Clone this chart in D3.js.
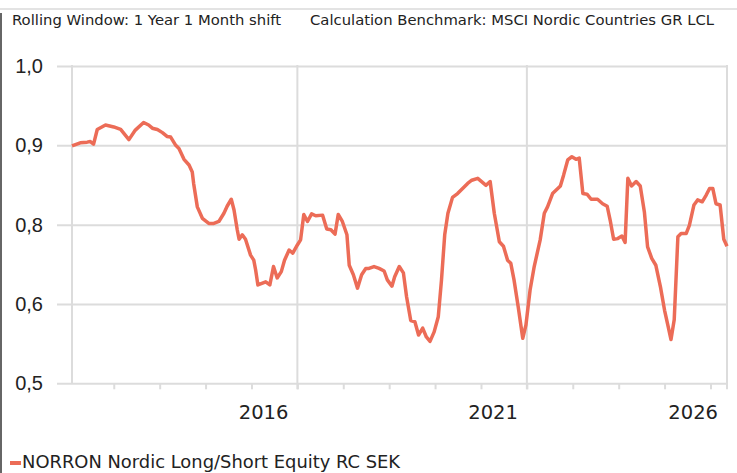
<!DOCTYPE html>
<meta charset="utf-8">
<script src="https://cdn.jsdelivr.net/npm/d3@7"></script>
<body style="margin:0;background:#fff">
<div id="chart"></div>
</body>
<script>

// rolling correlation (decimal year, value)
var periods = [
  2011.09, 2011.27, 2011.42, 2011.49, 2011.56, 2011.64, 2011.82, 2012.00, 2012.15, 2012.33,
  2012.47, 2012.65, 2012.76, 2012.84, 2012.95, 2013.06, 2013.16, 2013.24, 2013.35, 2013.42,
  2013.53, 2013.64, 2013.71, 2013.74, 2013.82, 2013.93, 2014.07, 2014.18, 2014.29, 2014.40,
  2014.47, 2014.56, 2014.62, 2014.69, 2014.73, 2014.80, 2014.87, 2014.98, 2015.05, 2015.09,
  2015.14, 2015.24, 2015.31, 2015.40, 2015.48, 2015.56, 2015.65, 2015.72, 2015.82, 2015.90,
  2016.00, 2016.07, 2016.14, 2016.22, 2016.31, 2016.40, 2016.55, 2016.64, 2016.73, 2016.82,
  2016.89, 2016.98, 2017.08, 2017.13, 2017.22, 2017.31, 2017.40, 2017.49, 2017.56, 2017.67,
  2017.78, 2017.89, 2017.96, 2018.06, 2018.12, 2018.22, 2018.31, 2018.38, 2018.47, 2018.56,
  2018.64, 2018.73, 2018.81, 2018.89, 2018.98, 2019.07, 2019.14, 2019.21, 2019.28, 2019.38,
  2019.49, 2019.60, 2019.71, 2019.80, 2019.93, 2020.11, 2020.20, 2020.29, 2020.40, 2020.49,
  2020.58, 2020.65, 2020.72, 2020.81, 2020.91, 2020.98, 2021.07, 2021.16, 2021.29, 2021.38,
  2021.45, 2021.56, 2021.73, 2021.80, 2021.89, 2021.98, 2022.07, 2022.14, 2022.22, 2022.31,
  2022.40, 2022.54, 2022.65, 2022.75, 2022.82, 2022.89, 2022.98, 2023.07, 2023.14, 2023.20,
  2023.28, 2023.38, 2023.47, 2023.56, 2023.63, 2023.72, 2023.81, 2023.91, 2024.00, 2024.07,
  2024.14, 2024.21, 2024.29, 2024.36, 2024.47, 2024.54, 2024.64, 2024.72, 2024.82, 2024.91,
  2024.98, 2025.05, 2025.12, 2025.21, 2025.29, 2025.36
];

var values = [
  0.874, 0.879, 0.880, 0.881, 0.877, 0.900, 0.907, 0.904, 0.900, 0.884,
  0.899, 0.911, 0.907, 0.902, 0.900, 0.895, 0.889, 0.888, 0.875, 0.870,
  0.853, 0.844, 0.833, 0.815, 0.778, 0.760, 0.752, 0.752, 0.755, 0.768,
  0.779, 0.790, 0.773, 0.742, 0.727, 0.734, 0.727, 0.702, 0.694, 0.679,
  0.655, 0.658, 0.660, 0.655, 0.684, 0.666, 0.676, 0.694, 0.710, 0.705,
  0.718, 0.726, 0.766, 0.755, 0.767, 0.764, 0.765, 0.743, 0.742, 0.735,
  0.766, 0.755, 0.734, 0.686, 0.671, 0.650, 0.671, 0.681, 0.681, 0.684,
  0.681, 0.677, 0.663, 0.653, 0.668, 0.684, 0.674, 0.636, 0.599, 0.597,
  0.576, 0.587, 0.573, 0.566, 0.581, 0.605, 0.663, 0.734, 0.768, 0.793,
  0.799, 0.807, 0.815, 0.820, 0.823, 0.812, 0.818, 0.768, 0.723, 0.716,
  0.694, 0.689, 0.663, 0.621, 0.571, 0.592, 0.647, 0.684, 0.726, 0.768,
  0.778, 0.799, 0.811, 0.828, 0.852, 0.857, 0.853, 0.855, 0.799, 0.798,
  0.790, 0.790, 0.783, 0.779, 0.755, 0.727, 0.728, 0.732, 0.722, 0.823,
  0.811, 0.818, 0.811, 0.770, 0.715, 0.697, 0.686, 0.652, 0.615, 0.592,
  0.569, 0.600, 0.731, 0.736, 0.736, 0.749, 0.781, 0.789, 0.786, 0.797,
  0.807, 0.807, 0.783, 0.781, 0.727, 0.716
];

// the axis ticks sit at eighths, printed with one decimal
var yTicks = [0.5, 0.625, 0.75, 0.875, 1.0];
var minorYears = d3.range(2012, 2026);
var majorYears = [2016, 2021, 2026];

var headerLeft = "Rolling Window: 1 Year 1 Month shift",
    headerRight = "Calculation Benchmark: MSCI Nordic Countries GR LCL",
    seriesName = "NORRON Nordic Long/Short Equity RC SEK";

var W = 737, H = 473;
var plotLeft = 72, plotRight = 727, plotTop = 66, plotBottom = 383.3;
var color = "#ec6c57", grid = "#dcdcdc";

var svg = d3.select("#chart").append("svg")
  .attr("width", W)
  .attr("height", H)
  .style("font-family", "'DejaVu Sans', Verdana, sans-serif");

var x = d3.scaleLinear().domain(d3.extent(periods)).range([plotLeft, plotRight]);
var y = d3.scaleLinear().domain([0.5, 1.0]).range([plotBottom, plotTop]);

// frame
svg.append("line").attr("x1", 0).attr("x2", W).attr("y1", 9).attr("y2", 9)
  .attr("stroke", "#e3e3e3").attr("stroke-width", 2);
svg.append("line").attr("x1", 1).attr("x2", 1).attr("y1", 13).attr("y2", H)
  .attr("stroke", "#333").attr("stroke-width", 1.5);

svg.append("text").attr("x", 12).attr("y", 25)
  .style("font-size", "14.8px").attr("fill", "#222").text(headerLeft);
svg.append("text").attr("x", 310).attr("y", 25)
  .style("font-size", "14.8px").attr("fill", "#222").text(headerRight);

// y grid + labels
var yAxis = d3.axisLeft(y)
  .tickValues(yTicks)
  .tickSize(plotRight - 57)
  .tickPadding(14)
  .tickFormat(function(d) { return d3.format(".1f")(d).replace(".", ","); });

var gy = svg.append("g").attr("transform", "translate(" + plotRight + ",0)").call(yAxis);
gy.select(".domain").remove();
gy.selectAll("line").attr("stroke", grid).attr("stroke-width", 2);
gy.selectAll("text").style("font-size", "20px").attr("fill", "#222");

// x ticks
var xAxis = d3.axisBottom(x).tickValues(minorYears).tickSize(6).tickFormat("");
var gx = svg.append("g").attr("transform", "translate(0," + plotBottom + ")").call(xAxis);
gx.select(".domain").remove();
gx.selectAll("line").attr("stroke", grid).attr("stroke-width", 2);

// vertical grid lines: plot edges and major years
svg.append("g").selectAll("line")
  .data([plotLeft, plotRight].concat(majorYears.filter(function(d) { return x(d) < plotRight; }).map(x)))
  .enter().append("line")
  .attr("x1", function(d) { return d; }).attr("x2", function(d) { return d; })
  .attr("y1", plotTop - 1)
  .attr("y2", function(d) { return d === plotLeft ? plotBottom : plotBottom + 6; })
  .attr("stroke", grid).attr("stroke-width", 2);

svg.append("g").selectAll("text")
  .data(majorYears)
  .enter().append("text")
  .attr("x", function(d) { return Math.min(x(d) - 9, plotRight - 9); })
  .attr("y", 419)
  .attr("text-anchor", "end")
  .style("font-size", "19.5px").attr("fill", "#222")
  .text(function(d) { return d; });

// series
var line = d3.line()
  .x(function(d, i) { return x(periods[i]); })
  .y(function(d) { return y(d); });

svg.append("path")
  .datum(values)
  .attr("d", line)
  .attr("fill", "none")
  .attr("stroke", color)
  .attr("stroke-width", 3.5)
  .attr("stroke-linejoin", "round");

// legend
svg.append("rect").attr("x", 10).attr("y", 461).attr("width", 11).attr("height", 4).attr("fill", color);
svg.append("text").attr("x", 22).attr("y", 468)
  .style("font-size", "17.9px").attr("fill", "#222").text(seriesName);

</script>
